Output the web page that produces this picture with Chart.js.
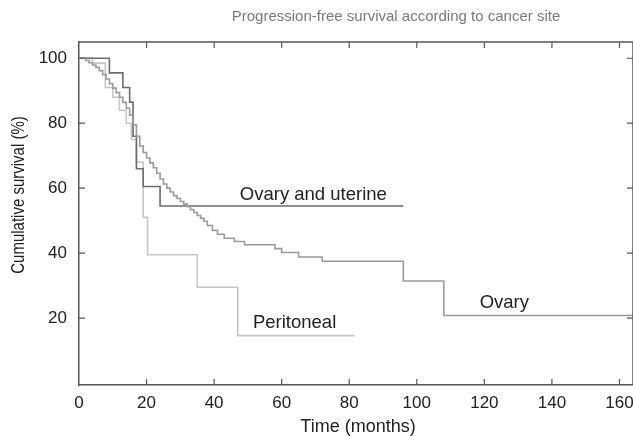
<!DOCTYPE html>
<html>
<head>
<meta charset="utf-8">
<script src="https://cdn.jsdelivr.net/npm/chart.js@4/dist/chart.umd.min.js"></script>
<style>
  html, body { margin: 0; padding: 0; background: #ffffff; }
  #wrap { width: 633px; height: 436px; position: relative; }
</style>
</head>
<body>
<div id="wrap"><canvas id="survivalChart"></canvas></div>
<script>
// time in months, cumulative survival in %
var ovaryTime = [0, 2, 3, 4, 5, 6, 7, 8, 9, 10, 11, 12, 13, 14, 15, 16, 17, 18, 19, 20, 21, 22, 23, 24, 25, 26, 27, 28, 29, 30, 31, 32, 33, 34, 35, 36, 37, 38, 39.5, 41, 43, 46, 49, 58, 60, 65, 72, 96, 108, 164];
var ovarySurv = [100, 99.3, 98.6, 97.9, 97.2, 96.2, 95, 93.6, 92.2, 90.8, 89.4, 88, 86.4, 84.6, 82.5, 79.5, 76, 73, 71, 69.3, 67.8, 66.3, 64.6, 62.8, 61.3, 60, 58.8, 57.7, 56.8, 55.9, 55.1, 54.3, 53.4, 52.5, 51.6, 50.7, 49.8, 48.5, 47, 45.8, 44.6, 43.6, 42.6, 41.4, 40.2, 38.8, 37.5, 31.4, 20.8, 20.8];

var uterineTime = [0, 9, 13, 15, 16, 17, 19, 24, 96];
var uterineSurv = [100, 95.5, 91, 86.5, 76, 66, 60.5, 54.5, 54.5];

var peritonealTime = [0, 4, 7.8, 10, 12, 14, 15.5, 17, 19, 20.3, 35, 47, 81.5];
var peritonealSurv = [100, 98.5, 91, 88, 84, 80, 75, 68, 51, 39.5, 29.5, 14.6, 14.6];

var xTicks = [0, 20, 40, 60, 80, 100, 120, 140, 160];
var yTicks = [20, 40, 60, 80, 100];

var curveLabels = [
    { text: 'Ovary and uterine', x: 47.6, y: 57.8 },
    { text: 'Ovary', x: 118.6, y: 24.6 },
    { text: 'Peritoneal', x: 51.5, y: 18.4 }
];

var FONT = '"Liberation Sans", Arial, Helvetica, sans-serif';
var AXIS = '#575757';

function toPoints( times, values )
{
    var pts = [];
    for ( var i = 0; i < times.length; i++ ) {
        pts.push( { x: times[i], y: values[i] } );
    }
    return pts;
}

function makeSeries( label, times, values, color )
{
    return {
        label: label,
        data: toPoints( times, values ),
        stepped: true,
        borderColor: color,
        borderWidth: 1.6,
        pointRadius: 0,
        fill: false
    };
}

// frame, inward ticks, curve labels and titles
var decorPlugin = {
    id: 'decor',
    afterDraw: function( chart ) {
        var ctx = chart.ctx, area = chart.chartArea;
        var xs = chart.scales.x, ys = chart.scales.y;
        ctx.save();
        ctx.strokeStyle = AXIS;
        ctx.lineWidth = 1.5;
        ctx.beginPath();
        ctx.moveTo( area.left, area.top );
        ctx.lineTo( area.right, area.top );
        ctx.lineTo( area.right, area.bottom );
        ctx.stroke();

        ctx.lineWidth = 1.2;
        ctx.beginPath();
        xTicks.forEach( function( v ) {
            if ( v === 0 ) return;
            var px = xs.getPixelForValue( v );
            ctx.moveTo( px, area.bottom );
            ctx.lineTo( px, area.bottom - 6 );
            ctx.moveTo( px, area.top );
            ctx.lineTo( px, area.top + 6 );
        });
        yTicks.forEach( function( v ) {
            var py = ys.getPixelForValue( v );
            ctx.moveTo( area.left, py );
            ctx.lineTo( area.left + 6, py );
            ctx.moveTo( area.right, py );
            ctx.lineTo( area.right - 6, py );
        });
        ctx.stroke();

        ctx.fillStyle = '#222222';
        ctx.font = '18.5px ' + FONT;
        ctx.textAlign = 'left';
        ctx.textBaseline = 'middle';
        curveLabels.forEach( function( l ) {
            ctx.fillText( l.text, xs.getPixelForValue( l.x ), ys.getPixelForValue( l.y ) );
        });

        ctx.textAlign = 'center';
        ctx.font = '18px ' + FONT;
        ctx.fillText( 'Time (months)', 358, 427 );

        ctx.save();
        ctx.translate( 19, 195 );
        ctx.rotate( -Math.PI / 2 );
        ctx.scale( 1, 1.18 );
        ctx.font = '15px ' + FONT;
        ctx.fillText( 'Cumulative survival (%)', 0, 0 );
        ctx.restore();

        ctx.fillStyle = '#7a7a7a';
        ctx.font = '15px ' + FONT;
        ctx.fillText( 'Progression-free survival according to cancer site', 396, 17 );
        ctx.restore();
    }
};

function drawChart( chartElementId )
{
    var ctx = document.getElementById( chartElementId ).getContext( '2d' );
    return new Chart( ctx, {
        type: 'line',
        data: {
            datasets: [
                makeSeries( 'Ovary', ovaryTime, ovarySurv, '#9b9b9b' ),
                makeSeries( 'Ovary and uterine', uterineTime, uterineSurv, '#6c6c6c' ),
                makeSeries( 'Peritoneal', peritonealTime, peritonealSurv, '#c6c6c6' )
            ]
        },
        options: {
            responsive: true,
            maintainAspectRatio: false,
            animation: false,
            layout: { padding: { top: 42, right: 0, left: 0, bottom: 0 } },
            plugins: {
                legend: { display: false },
                tooltip: { enabled: false },
                title: { display: false }
            },
            scales: {
                x: {
                    type: 'linear',
                    min: 0,
                    max: 164,
                    afterBuildTicks: function( scale ) {
                        scale.ticks = xTicks.map( function( v ) { return { value: v }; } );
                    },
                    afterFit: function( scale ) {
                        scale.height = 51;
                        scale.paddingLeft = 0;
                        scale.paddingRight = 0;
                    },
                    grid: { display: false, drawTicks: false },
                    border: { display: true, color: AXIS, width: 1.5 },
                    ticks: { color: '#222222', font: { family: FONT, size: 17 }, padding: 8, maxRotation: 0 }
                },
                y: {
                    type: 'linear',
                    min: -0.6,
                    max: 105,
                    afterBuildTicks: function( scale ) {
                        scale.ticks = yTicks.map( function( v ) { return { value: v }; } );
                    },
                    afterFit: function( scale ) {
                        scale.width = 79;
                        scale.paddingTop = 0;
                        scale.paddingBottom = 0;
                    },
                    grid: { display: false, drawTicks: false },
                    border: { display: true, color: AXIS, width: 1.5 },
                    ticks: { color: '#222222', font: { family: FONT, size: 17 }, padding: 12 }
                }
            }
        },
        plugins: [ decorPlugin ]
    });
}

drawChart( 'survivalChart' );
</script>
</body>
</html>
